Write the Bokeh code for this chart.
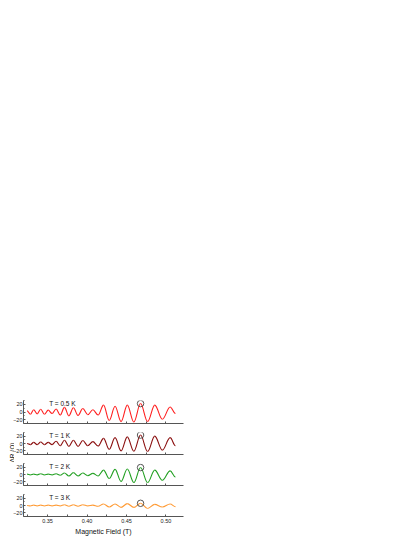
import math
from bokeh.plotting import figure
from bokeh.layouts import row, column
from bokeh.models import Range1d, FixedTicker, Label, ColumnDataSource
from bokeh.embed import file_html
from bokeh.resources import INLINE

# Magnetic field (T) at successive extrema of the oscillations (shared by all panels)
field = [0.3240, 0.3282, 0.3324, 0.3368, 0.3413, 0.3460, 0.3508, 0.3557, 0.3608, 0.3660,
         0.3714, 0.3770, 0.3827, 0.3886, 0.3946, 0.4009, 0.4074, 0.4140, 0.4209, 0.4281,
         0.4355, 0.4431, 0.4510, 0.4593, 0.4678, 0.4767, 0.4858, 0.4954, 0.5053, 0.5120]

# Delta R (Ohm) at those extrema, one series per temperature
dr_05K = [3, -6, 6, -5, 7, -6, 5, -4, 8, -8,
          12, -10, 11, -9, 9, -7, 6, -8, 18, -22,
          15, -25, 18, -26, 22, -25, 18, -19, 13, -4]
dr_1K = [0, -3, 3, -3, 4, -3, 3, -3, 6, -6,
         9, -8, 9, -8, 8, -6, 5, -7, 14, -16,
         16, -20, 18, -21, 23, -22, 20, -18, 16, -6]
dr_2K = [1, -1, 1, -1, 2, -1, 1, -1, 2, -2,
         4, -4, 5, -4, 4, -3, 3, -4, 12, -11,
         14, -19, 15, -22, 19, -22, 12, -16, 10, -7]
dr_3K = [0, -1, 1, -1, 1, -1, 1, -1, 1, -1,
         2, -2, 2, -2, 2, -1, 1, -2, 4, -4,
         4, -5, 5, -5, 6, -8, 3, -4, 4, -3]

series = [dr_05K, dr_1K, dr_2K, dr_3K]
temperatures = ["T = 0.5 K", "T = 1 K", "T = 2 K", "T = 3 K"]
colors = ["#ff2020", "#8b1010", "#23a023", "#ff9a33"]
circled_index = 24

x_ticks = [0.35, 0.40, 0.45, 0.50]
x_tick_labels = ["0.35", "0.40", "0.45", "0.50"]
x_minor_ticks = [0.325, 0.375, 0.425, 0.475]
y_ticks = [-20, 0, 20]
y_minor_ticks = [-30, -10, 10, 30]

FONT = "Liberation Sans"
AXIS_COL = "#555555"

panel_tops = [400, 5, 5, 5]
panel_bottoms = [4, 4, 4, 19]
frame_heights = [23, 22, 22, 22]
total_height = sum(t + f + b for t, f, b in zip(panel_tops, frame_heights, panel_bottoms))
LEFT_BORDER = 14


def half_wave_source(xs, ys):
    # one smooth (horizontal-tangent) segment between consecutive extrema
    x0, y0, x1, y1 = xs[:-1], ys[:-1], xs[1:], ys[1:]
    k = 0.364
    cx0 = [a + (b - a) * k for a, b in zip(x0, x1)]
    cx1 = [b - (b - a) * k for a, b in zip(x0, x1)]
    return ColumnDataSource(dict(x0=x0, y0=y0, x1=x1, y1=y1,
                                 cx0=cx0, cy0=y0, cx1=cx1, cy1=y1))


figs = []
for i, (vals, label, col) in enumerate(zip(series, temperatures, colors)):
    p = figure(frame_width=160, frame_height=frame_heights[i],
               toolbar_location=None, output_backend="svg",
               x_range=Range1d(0.3195, 0.5222), y_range=Range1d(-30, 30),
               min_border_left=LEFT_BORDER, min_border_right=10,
               min_border_top=panel_tops[i], min_border_bottom=panel_bottoms[i],
               outline_line_color=None, background_fill_color="white",
               border_fill_color=None)
    p.xgrid.visible = False
    p.ygrid.visible = False
    p.bezier(x0="x0", y0="y0", x1="x1", y1="y1", cx0="cx0", cy0="cy0", cx1="cx1", cy1="cy1",
             source=half_wave_source(field, vals), line_color=col, line_width=1.1)
    p.scatter([field[circled_index]], [vals[circled_index]], marker="circle", size=6.5,
              fill_color=None, line_color="#444444", line_width=0.9)
    p.add_layout(Label(x=0.352, y=23, text=label, text_font=FONT, text_font_size="6.5px",
                       text_align="left", text_baseline="middle", text_color="#111111"))

    for ax in (p.xaxis[0], p.yaxis[0]):
        ax.axis_line_color = AXIS_COL
        ax.major_tick_line_color = AXIS_COL
        ax.minor_tick_line_color = AXIS_COL
        ax.major_tick_in = 2
        ax.major_tick_out = 0
        ax.minor_tick_in = 1
        ax.minor_tick_out = 0
        ax.major_label_text_font = FONT
        ax.major_label_text_font_size = "5.5px"
        ax.major_label_text_color = "#222222"
        ax.major_label_standoff = 1

    p.yaxis[0].ticker = FixedTicker(ticks=y_ticks, minor_ticks=y_minor_ticks)

    if i < 3:
        # same tick marks, no labels
        p.xaxis[0].ticker = FixedTicker(ticks=[], minor_ticks=sorted(x_ticks + x_minor_ticks))
        p.xaxis[0].minor_tick_in = 2
        p.xaxis[0].major_label_standoff = 0
    else:
        p.xaxis[0].ticker = FixedTicker(ticks=x_ticks, minor_ticks=x_minor_ticks)
        p.xaxis[0].major_label_overrides = {t: s for t, s in zip(x_ticks, x_tick_labels)}
        p.xaxis[0].minor_tick_in = 2
        p.xaxis[0].major_label_standoff = 2
        p.xaxis[0].axis_label = "Magnetic Field (T)"
        p.xaxis[0].axis_label_text_font = FONT
        p.xaxis[0].axis_label_text_font_size = "7px"
        p.xaxis[0].axis_label_text_font_style = "normal"
        p.xaxis[0].axis_label_standoff = 2
        p.xaxis[0].axis_label_text_color = "#111111"
    figs.append(p)

LAB_W = 14
lab = figure(width=LAB_W, height=total_height, toolbar_location=None, output_backend="svg",
             x_axis_location=None, y_axis_location=None, min_border=0,
             outline_line_color=None, border_fill_color=None, background_fill_color=None)
lab.xgrid.visible = False
lab.ygrid.visible = False
lab.add_layout(Label(x=11.5, y=total_height - 452, x_units="screen", y_units="screen",
                     text="ΔR (Ω)", angle=math.pi / 2, text_align="center",
                     text_baseline="middle", text_font=FONT, text_font_size="6.5px",
                     text_color="#111111"))
# let the panels' left border overlap the label strip so the frames start at x = 23
lab.margin = (0, 23 - LAB_W - LEFT_BORDER, 0, 0)

layout = row(lab, column(*figs))
open("out.html", "w").write(file_html(layout, INLINE))
